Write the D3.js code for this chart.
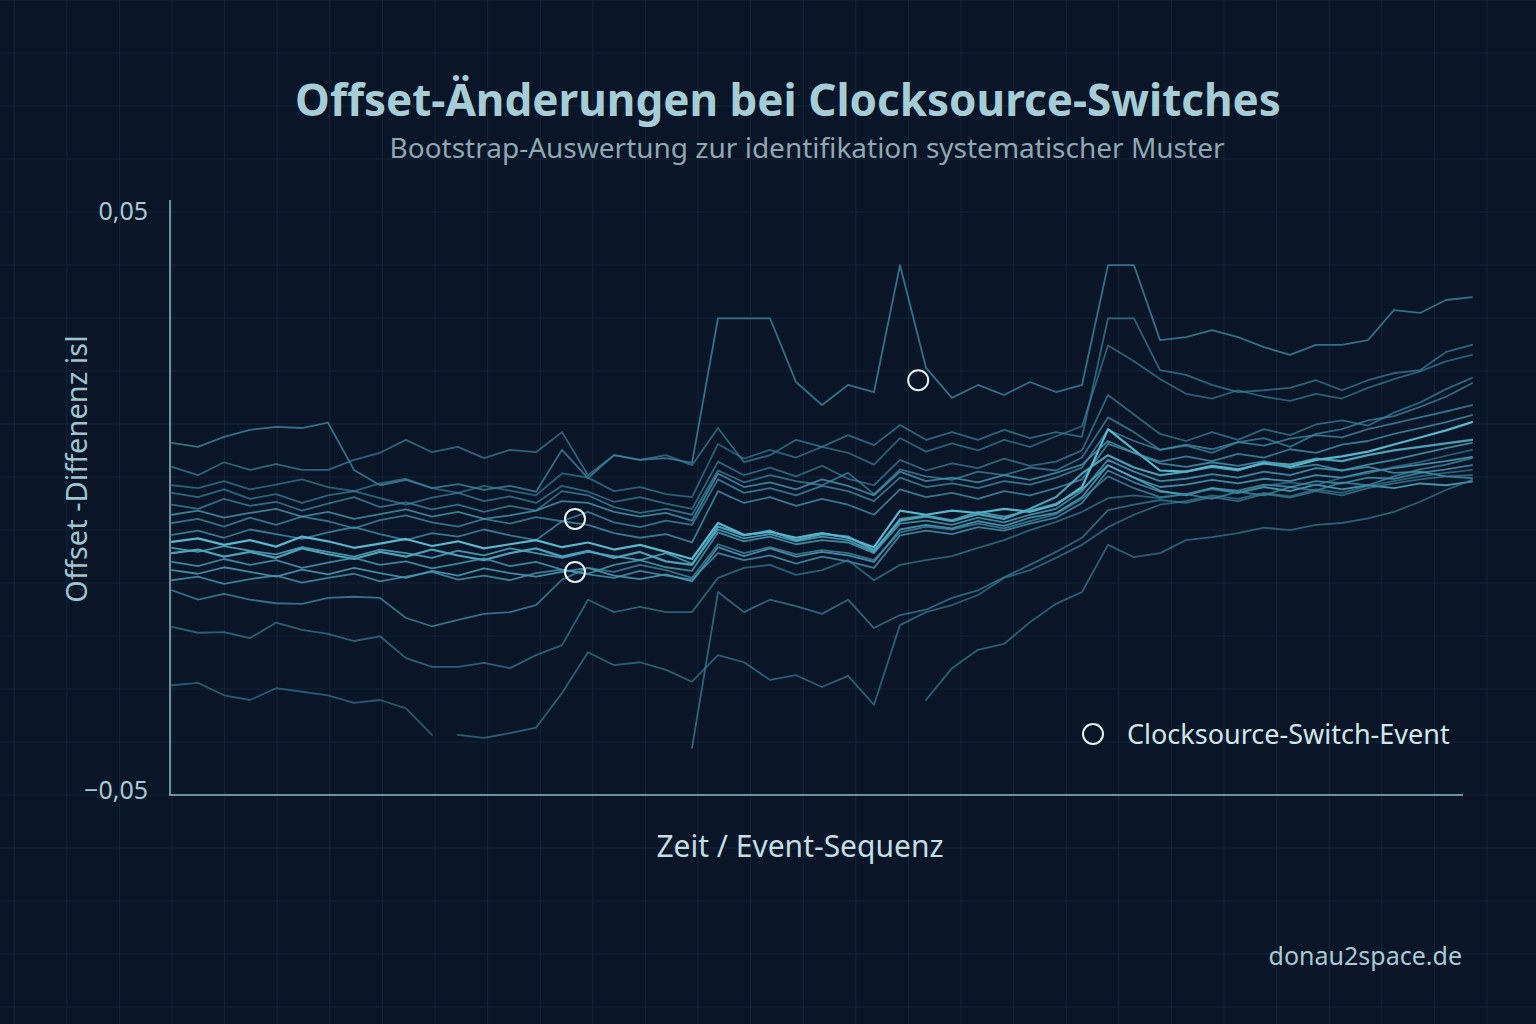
<!DOCTYPE html>
<html>
<head>
<meta charset="utf-8">
<script src="https://cdn.jsdelivr.net/npm/d3@7"></script>
<style>
html, body { margin: 0; padding: 0; background: #0a1527; }
svg { display: block; font-family: "Noto Sans", "Open Sans", sans-serif; }
</style>
</head>
<body>
<div id="chart"></div>
<script>
var width = 1536;
var height = 1024;

// bootstrap resamples, offset difference in ms, one value per event step (0..50)
var boot01 = [9.7, 9.0, 10.7, 11.9, 12.4, 12.2, 13.1, 5.1, 2.5, 3.4, 2.0, 2.7, 1.7, 2.4, 1.4, 8.5, 3.7, 7.6, 6.8, 7.1, 6.3, 30.8, 30.8, 30.8, 20.0, 16.1, 19.5, 18.3, 39.8, 22.4, 17.3, 19.5, 17.8, 20.0, 18.3, 19.5, 39.8, 39.8, 27.1, 27.6, 28.8, 27.6, 25.9, 24.6, 26.3, 26.3, 27.1, 32.2, 31.7, 33.9, 34.4];
var boot02 = [5.6, 4.2, 6.4, 5.1, 6.1, 5.1, 5.1, 6.8, 8.0, 10.2, 8.1, 9.0, 7.1, 8.5, 8.1, 11.5, 4.2, 7.6, 6.8, 7.6, 5.9, 12.2, 6.4, 7.6, 10.2, 9.0, 11.0, 9.3, 12.7, 10.2, 11.5, 10.2, 11.9, 10.5, 11.5, 10.7, 30.8, 30.8, 22.0, 21.2, 19.5, 18.3, 18.6, 19.0, 20.3, 18.6, 20.3, 21.5, 22.0, 25.1, 26.3];
var boot03 = [2.5, 2.0, 3.2, 1.8, 2.6, 3.5, 2.2, 1.5, 2.8, 3.6, 2.0, 1.2, 2.4, 1.6, 0.8, 4.5, 3.8, 1.5, 2.2, 1.0, 0.5, 9.5, 7.0, 8.5, 7.2, 9.0, 8.0, 6.0, 10.5, 8.2, 9.6, 8.4, 10.2, 9.0, 10.8, 12.5, 26.2, 23.5, 20.5, 18.0, 17.2, 18.6, 17.5, 16.8, 18.0, 17.2, 19.0, 20.5, 21.8, 23.5, 24.6];
var boot04 = [1.2, 0.5, 1.8, 0.2, 1.0, -0.5, 0.8, 1.5, 0.3, -0.8, 0.4, 1.2, -0.2, 0.6, -0.5, 2.4, 1.4, -0.3, 0.5, -0.6, -1.5, 6.5, 4.2, 5.5, 4.0, 5.8, 3.6, 2.5, 6.8, 5.0, 6.2, 5.4, 7.0, 5.8, 6.5, 8.4, 17.8, 14.5, 11.2, 10.0, 11.5, 10.2, 12.0, 11.0, 12.8, 13.5, 12.6, 14.8, 16.5, 18.8, 20.7];
var boot05 = [-0.8, -1.5, 0.2, -1.0, -0.3, -1.8, -0.6, 0.5, -1.2, -0.4, -1.6, -0.8, -2.0, -1.0, -1.8, 1.5, 0.8, -1.2, -2.2, -1.5, -2.5, 5.0, 3.0, 4.2, 3.2, 2.5, 4.6, 1.0, 5.2, 4.0, 3.4, 4.8, 4.2, 5.5, 5.0, 7.2, 14.0, 11.5, 8.5, 9.2, 8.0, 9.8, 10.5, 9.0, 11.2, 12.0, 13.5, 14.2, 15.8, 17.5, 19.8];
var boot06 = [-3.9, -3.2, -4.5, -3.0, -4.2, -2.8, -3.6, -4.8, -3.4, -2.6, -3.8, -4.5, -3.2, -4.0, -2.9, -3.6, -2.0, -3.8, -4.6, -3.5, -4.2, 3.5, 1.2, 2.0, 0.8, 2.4, 1.5, -0.2, 3.8, 2.2, 2.8, 2.0, 3.2, 2.6, 3.8, 5.5, 11.9, 10.0, 8.5, 9.4, 8.6, 9.8, 9.2, 10.4, 11.0, 10.6, 12.0, 13.0, 14.0, 15.0, 16.1];
var boot07 = [-5.9, -5.2, -6.4, -5.0, -5.8, -6.6, -5.5, -4.6, -5.8, -6.8, -5.6, -6.2, -5.0, -6.0, -6.8, -3.6, -4.2, -5.6, -6.4, -5.8, -7.2, 1.5, -0.5, 0.5, -1.0, 0.2, -0.8, -2.5, 1.8, 0.5, 1.2, 0.2, 1.5, 0.8, 2.0, 3.5, 9.5, 8.0, 6.5, 7.4, 6.6, 7.8, 7.2, 8.6, 8.0, 9.4, 10.0, 11.2, 12.2, 13.2, 14.4];
var boot08 = [-7.1, -6.5, -7.6, -6.8, -7.9, -6.2, -7.0, -8.1, -7.4, -6.6, -7.8, -7.0, -8.2, -7.5, -6.8, -8.0, -7.2, -8.4, -7.6, -8.8, -10.0, -3.9, -5.9, -5.4, -6.4, -5.6, -6.4, -8.0, -1.8, -2.5, -1.8, -2.2, -1.5, -2.0, -0.8, 2.2, 12.0, 8.5, 5.0, 4.8, 5.8, 5.2, 6.2, 5.6, 6.8, 7.4, 8.2, 9.4, 10.6, 11.8, 13.2];
var boot09 = [-9.0, -8.4, -9.6, -8.8, -9.8, -8.2, -9.2, -10.0, -8.8, -9.6, -8.4, -9.4, -10.2, -9.0, -8.2, -9.6, -8.6, -9.8, -8.8, -10.4, -11.0, -4.5, -6.0, -5.2, -6.8, -5.8, -6.2, -8.5, -3.5, -2.8, -3.6, -2.4, -3.2, -1.5, 0.5, 4.5, 7.6, 5.5, 4.2, 4.8, 5.6, 5.0, 6.4, 6.0, 7.0, 6.6, 7.6, 8.4, 9.0, 9.6, 10.2];
var boot10 = [-10.5, -11.2, -10.0, -11.0, -10.2, -11.5, -10.6, -9.8, -11.0, -10.4, -11.6, -10.8, -9.9, -11.2, -10.5, -11.8, -12.5, -11.0, -10.2, -11.4, -12.0, -5.5, -7.0, -6.2, -7.5, -6.8, -7.2, -9.0, -4.0, -3.5, -4.2, -3.0, -3.8, -2.5, -1.5, 1.5, 6.8, 4.8, 3.2, 3.6, 4.4, 3.8, 4.8, 4.2, 5.4, 5.0, 6.0, 6.8, 7.8, 8.8, 9.7];
var boot11 = [-11.9, -12.5, -11.4, -12.2, -13.0, -11.8, -12.6, -11.5, -12.4, -13.2, -12.0, -12.8, -11.6, -12.4, -13.0, -12.2, -11.5, -12.8, -13.4, -12.6, -13.8, -8.0, -9.5, -8.2, -9.6, -8.8, -9.4, -10.5, -5.0, -4.2, -4.8, -3.6, -4.4, -3.0, -2.2, 0.5, 5.9, 3.8, 2.2, 2.6, 3.4, 2.8, 3.6, 3.2, 4.2, 3.8, 4.8, 5.4, 6.0, 6.6, 7.3];
var boot12 = [-13.6, -13.0, -14.2, -13.4, -12.8, -14.0, -13.2, -12.5, -13.8, -13.0, -12.2, -13.5, -12.8, -13.6, -12.4, -11.8, -12.6, -13.2, -12.0, -12.8, -13.5, -9.0, -10.2, -9.4, -10.8, -9.6, -10.4, -11.5, -6.0, -5.2, -5.8, -4.6, -5.2, -4.0, -3.0, -0.5, 5.0, 3.0, 1.4, 1.0, 2.0, 1.6, 2.6, 2.2, 3.2, 2.8, 3.8, 3.6, 4.6, 5.2, 5.9];
var boot13 = [-2.5, -1.8, -3.0, -2.2, -1.5, -2.8, -2.0, -3.2, -2.4, -1.6, -2.8, -2.0, -3.2, -2.6, -1.8, -0.2, -0.5, -2.0, -2.8, -2.2, -3.5, 4.5, 2.2, 3.0, 1.8, 3.5, 2.4, 0.8, 4.8, 3.2, 3.8, 3.0, 4.2, 3.4, 4.6, 6.0, 10.0, 8.0, 6.2, 5.6, 6.4, 5.8, 6.6, 5.4, 6.0, 5.0, 5.6, 4.6, 4.8, 4.0, 3.7];
var boot14 = [-8.1, -8.8, -7.8, -8.6, -9.2, -8.0, -8.8, -9.6, -8.4, -9.0, -9.8, -8.6, -9.4, -8.2, -9.0, -9.8, -8.8, -9.5, -10.2, -9.0, -10.8, -5.0, -6.5, -5.8, -7.0, -6.2, -6.8, -8.8, -3.2, -2.6, -3.4, -2.0, -2.8, -1.8, -0.6, 1.8, 5.9, 3.8, 1.6, 0.8, 2.0, 1.2, 2.2, 1.5, 2.6, 1.8, 2.5, 2.0, 2.8, 2.5, 3.1];
var boot15 = [-15.3, -16.9, -15.9, -16.9, -17.5, -17.6, -16.6, -16.4, -16.6, -20.0, -21.4, -20.3, -19.3, -19.0, -17.8, -13.5, -11.5, -12.2, -11.0, -11.9, -13.2, -7.5, -9.0, -8.0, -9.2, -8.5, -9.0, -10.2, -5.5, -4.5, -5.0, -4.0, -4.8, -3.6, -2.4, 0.2, 4.0, 2.0, 0.5, 1.0, 0.2, 1.4, 0.8, 2.2, 1.6, 3.0, 2.5, 4.0, 5.2, 6.0, 7.1];
var boot16 = [-31.4, -31.0, -33.1, -33.9, -31.9, -32.5, -33.1, -34.4, -33.9, -35.3, -39.8];
var boot17 = [null, null, null, null, null, null, null, null, null, null, null,
	-39.8, -40.3, -39.5, -38.6, -32.7, -25.8, -28.0, -27.5, -28.8, -30.8, -26.3, -27.5, -30.5, -29.7, -31.7, -29.8, -34.7, -21.2, -19.0, -17.8, -16.1, -13.2, -11.9, -9.8, -7.6, -4.6, -2.5, -0.8, -0.2, 0.8, 0.2, 1.2, 0.6, 1.8, 1.2, 2.4, 3.2, 4.0, 4.6, 5.1];
var boot18 = [-21.5, -22.5, -22.4, -23.4, -20.8, -22.0, -22.7, -23.9, -23.1, -26.8, -28.3, -28.3, -27.6, -28.5, -26.3, -24.6, -16.9, -19.0, -18.1, -19.0, -19.0, -13.2, -11.5, -11.0, -12.7, -11.9, -10.2, -13.6, -11.0, -10.2, -9.5, -8.1, -6.8, -5.1, -3.7, -2.0, 0.3, 0.8, 0.3, 1.0, 1.8, 1.2, 2.4, 3.0, 2.5, 3.8, 4.5, 5.6, 6.4, 7.5, 8.5];
var boot19 = [null, null, null, null, null, null, null, null, null, null, null, null, null, null, null, null, null, null, null, null,
	-42.0, -15.6, -19.0, -16.9, -18.0, -19.3, -16.9, -21.7, -19.5, -18.6, -16.6, -15.3, -13.1, -11.0, -8.8, -6.4, -1.7, -0.8, 0.0, -0.5, 0.5, -0.2, 1.0, 0.4, 1.5, 0.8, 2.0, 2.8, 3.5, 4.0, 4.2];
var boot20 = [null, null, null, null, null, null, null, null, null, null, null, null, null, null, null, null, null, null, null, null, null, null, null, null, null, null, null, null, null,
	-33.9, -28.5, -25.4, -24.4, -20.7, -17.6, -15.6, -7.6, -9.7, -9.0, -6.8, -6.3, -5.6, -4.7, -5.1, -4.2, -3.9, -3.1, -2.0, -0.3, 1.7, 3.4];

var samples = [boot01, boot02, boot03, boot04, boot05, boot06, boot07, boot08, boot09, boot10,
	boot11, boot12, boot13, boot14, boot15, boot16, boot17, boot18, boot19, boot20];

// brightness of each resample line (0 = dim, 1 = bright)
var sampleTone = [0.45, 0.35, 0.3, 0.35, 0.4, 0.45, 0.5, 0.95, 0.8, 0.6,
	0.65, 0.55, 0.55, 0.7, 0.45, 0.25, 0.3, 0.3, 0.35, 0.3];

// clocksource switch events: step and offset in s
var eventSeq = [15.5, 15.5, 28.7];
var eventOffset = [-0.0032, -0.0122, 0.0203];

var yTicks = [-0.05, 0.05];
var lastStep = 50;

var svg = d3.select("#chart").append("svg")
	.attr("width", width)
	.attr("height", height);

svg.append("rect")
	.attr("width", width)
	.attr("height", height)
	.attr("fill", "#0a1527");

// faint background grid
var grid = svg.append("g").attr("stroke", "#15253a").attr("stroke-width", 1);
for (var gx = 172 - 52.6 * 3; gx < width; gx += 52.6) {
	grid.append("line").attr("x1", gx).attr("x2", gx).attr("y1", 0).attr("y2", height);
}
for (var gy = 795 - 53 * 15; gy < height; gy += 53) {
	grid.append("line").attr("x1", 0).attr("x2", width).attr("y1", gy).attr("y2", gy);
}

var x = d3.scaleLinear().domain([0, lastStep]).range([172, 1472]);
var y = d3.scaleLinear().domain([-0.05, 0.05]).range([795, 205]);

var de = d3.formatLocale({decimal: ",", thousands: ".", grouping: [3], currency: ["", " €"], minus: "\u2212"});

var line = d3.line()
	.defined(function(d) { return d != null; })
	.x(function(d, i) { return x(i); })
	.y(function(d) { return y(d / 1000); });

var tone = d3.interpolateRgb("#285f7b", "#62c8dd");

svg.append("g")
	.attr("fill", "none")
	.attr("stroke-linejoin", "round")
	.attr("stroke-linecap", "round")
	.selectAll("path")
	.data(samples)
	.enter()
	.append("path")
	.attr("d", line)
	.attr("stroke", function(d, i) { return tone(sampleTone[i]); })
	.attr("stroke-opacity", function(d, i) { return 0.6 + 0.35 * sampleTone[i]; })
	.attr("stroke-width", function(d, i) { return sampleTone[i] > 0.75 ? 2.2 : 1.8; });

// axes
var yAxis = d3.axisLeft(y)
	.tickValues(yTicks)
	.tickSize(0)
	.tickPadding(22)
	.tickFormat(de.format(".2f"));

var gAxis = svg.append("g")
	.attr("transform", "translate(170,0)")
	.call(yAxis);
gAxis.select(".domain").remove();
gAxis.selectAll("text")
	.attr("fill", "#a9c9d2")
	.attr("font-size", 25)
	.attr("font-family", "Noto Sans");
gAxis.selectAll("text").filter(function(d) { return d > 0; }).attr("dy", "0.58em");
gAxis.selectAll("text").filter(function(d) { return d < 0; }).attr("dy", "0.15em");

svg.append("line")
	.attr("x1", 170).attr("x2", 170)
	.attr("y1", y(0.05) - 5).attr("y2", y(-0.05))
	.attr("stroke", "#8fb8c3").attr("stroke-width", 1.5);
svg.append("line")
	.attr("x1", 169).attr("x2", x(lastStep) - 9)
	.attr("y1", y(-0.05)).attr("y2", y(-0.05))
	.attr("stroke", "#8fb8c3").attr("stroke-width", 1.5);

// events
svg.selectAll("circle.event")
	.data(eventSeq)
	.enter()
	.append("circle")
	.attr("class", "event")
	.attr("cx", function(d) { return x(d); })
	.attr("cy", function(d, i) { return y(eventOffset[i]); })
	.attr("r", 10)
	.attr("fill", "none")
	.attr("stroke", "#e6f4f6")
	.attr("stroke-width", 2);

// legend
svg.append("circle")
	.attr("cx", 1093).attr("cy", 734).attr("r", 10)
	.attr("fill", "none").attr("stroke", "#e6f4f6").attr("stroke-width", 2);
svg.append("text")
	.attr("x", 1127).attr("y", 744)
	.attr("fill", "#cfe7eb").attr("font-size", 27)
	.text("Clocksource-Switch-Event");

// titles
svg.append("text")
	.attr("x", 788).attr("y", 116)
	.attr("text-anchor", "middle")
	.attr("fill", "#a6cdd6").attr("font-size", 44).attr("font-weight", "bold")
	.text("Offset-Änderungen bei Clocksource-Switches");
svg.append("text")
	.attr("x", 807).attr("y", 158)
	.attr("text-anchor", "middle")
	.attr("fill", "#8ea8b2").attr("font-size", 28)
	.text("Bootstrap-Auswertung zur identifikation systematischer Muster");

svg.append("text")
	.attr("transform", "translate(87,469) rotate(-90)")
	.attr("text-anchor", "middle")
	.attr("fill", "#9fc4cd").attr("font-size", 29)
	.text("Offset -Diffenenz isl");

svg.append("text")
	.attr("x", 800).attr("y", 857)
	.attr("text-anchor", "middle")
	.attr("fill", "#c2dfe4").attr("font-size", 30)
	.text("Zeit / Event-Sequenz");

svg.append("text")
	.attr("x", 1462).attr("y", 965)
	.attr("text-anchor", "end")
	.attr("fill", "#a9cad2").attr("font-size", 25)
	.text("donau2space.de");
</script>
</body>
</html>
